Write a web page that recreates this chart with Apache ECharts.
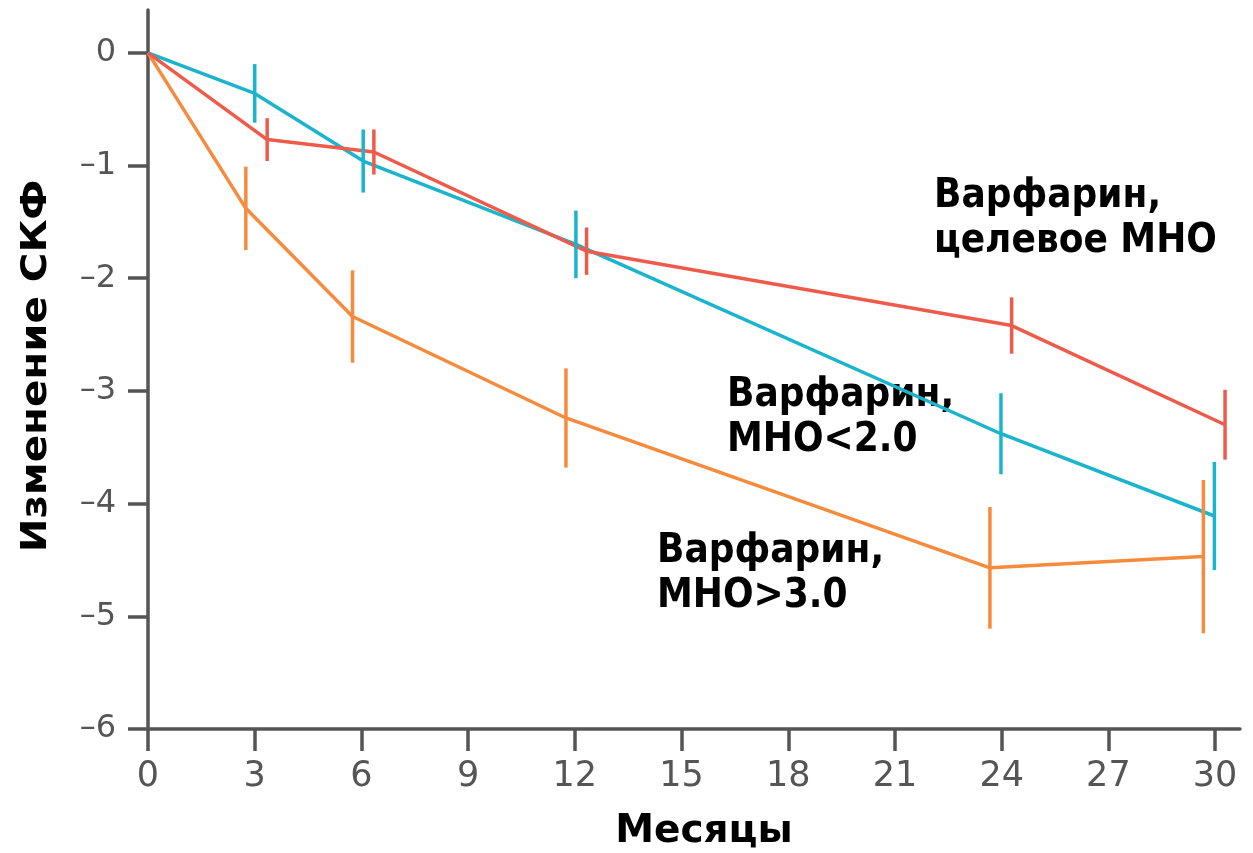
<!DOCTYPE html>
<html>
<head>
<meta charset="utf-8">
<script src="https://cdn.jsdelivr.net/npm/echarts@6/dist/echarts.min.js"></script>
<style>html,body{margin:0;padding:0;background:#fff;}#c{width:1253px;height:853px;}</style>
</head>
<body>
<div id="c"></div>
<script>
// ---- data ----
var xTicks = [0, 3, 6, 9, 12, 15, 18, 21, 24, 27, 30];
var yTicks = [-6, -5, -4, -3, -2, -1, 0];

// Warfarin, target INR (red)
var targetX   = [0, 3.35, 6.35, 12.33, 24.28, 30.28];
var targetY   = [0, -0.77, -0.88, -1.76, -2.42, -3.30];
var targetErr = [0, 0.19, 0.20, 0.21, 0.25, 0.31];

// Warfarin, INR<2.0 (cyan)
var lowX   = [0, 3.0, 6.05, 12.03, 23.98, 29.98];
var lowY   = [0, -0.36, -0.96, -1.70, -3.38, -4.11];
var lowErr = [0, 0.26, 0.28, 0.30, 0.36, 0.48];

// Warfarin, INR>3.0 (orange)
var highX   = [0, 2.75, 5.75, 11.75, 23.67, 29.67];
var highY   = [0, -1.38, -2.34, -3.24, -4.57, -4.47];
var highErr = [0, 0.37, 0.41, 0.44, 0.54, 0.68];

var labelTarget = 'Варфарин,\nцелевое МНО';
var labelLow = 'Варфарин,\nМНО<2.0';
var labelHigh = 'Варфарин,\nМНО>3.0';
var xName = 'Месяцы';
var yName = 'Изменение СКФ';

// ---- build ----
function pts(xs, ys) { return xs.map(function (x, i) { return [x, ys[i]]; }); }
function errData(xs, ys, es) {
  var out = [];
  xs.forEach(function (x, i) { if (es[i] > 0) out.push([x, ys[i] - es[i], ys[i] + es[i]]); });
  return out;
}
var COL_T = '#ee5b4b', COL_L = '#1ab5cc', COL_H = '#f68b3d';
var LW = 3.5;
function lineSeries(xs, ys, color) {
  return { type: 'line', data: pts(xs, ys), symbol: 'none', lineStyle: { color: color, width: LW }, z: 3, animation: false };
}
function errSeries(xs, ys, es, color) {
  return {
    type: 'custom', data: errData(xs, ys, es), z: 4, animation: false,
    renderItem: function (params, api) {
      var p1 = api.coord([api.value(0), api.value(1)]);
      var p2 = api.coord([api.value(0), api.value(2)]);
      return { type: 'line', shape: { x1: p1[0], y1: p1[1], x2: p2[0], y2: p2[1] }, style: { stroke: color, lineWidth: LW } };
    }
  };
}
var axisCol = '#555555';
var annFont = 'bold 36px "DejaVu Sans"';
var chart = echarts.init(document.getElementById('c'));
chart.setOption({
  animation: false,
  grid: { left: 148, right: 13, top: 10, bottom: 124, containLabel: false },
  xAxis: {
    type: 'value', min: 0, max: 30.7,
    splitLine: { show: false },
    axisLine: { show: true, onZero: false, lineStyle: { color: axisCol, width: 3.5 } },
    axisTick: { show: true, length: 22, customValues: xTicks, lineStyle: { color: axisCol, width: 3.5 } },
    axisLabel: { customValues: xTicks, margin: 30, color: axisCol, fontSize: 35, fontFamily: 'DejaVu Sans' }
  },
  yAxis: {
    type: 'value', min: -6, max: 0.38,
    splitLine: { show: false },
    axisLine: { show: true, onZero: false, lineStyle: { color: axisCol, width: 3.5 } },
    axisTick: { show: true, length: 20, customValues: yTicks, lineStyle: { color: axisCol, width: 3.5 } },
    axisLabel: { customValues: yTicks, margin: 32, color: axisCol, fontSize: 32, fontFamily: 'DejaVu Sans',
      formatter: function (v) { return String(v).replace('-', '–'); } }
  },
  series: [
    lineSeries(highX, highY, COL_H), errSeries(highX, highY, highErr, COL_H),
    lineSeries(lowX, lowY, COL_L), errSeries(lowX, lowY, lowErr, COL_L),
    lineSeries(targetX, targetY, COL_T), errSeries(targetX, targetY, targetErr, COL_T)
  ],
  graphic: [
    { type: 'text', x: 934, y: 174, scaleY: 1.15, style: { text: labelTarget, font: annFont, fill: '#000', lineHeight: 39 } },
    { type: 'text', x: 727, y: 373, scaleY: 1.15, style: { text: labelLow, font: annFont, fill: '#000', lineHeight: 39 } },
    { type: 'text', x: 657, y: 529, scaleY: 1.15, style: { text: labelHigh, font: annFont, fill: '#000', lineHeight: 39 } },
    { type: 'text', x: 704, y: 832, style: { text: xName, font: 'bold 39px "DejaVu Sans"', fill: '#000', align: 'center', verticalAlign: 'middle' } },
    { type: 'text', x: 37, y: 366, rotation: Math.PI / 2, scaleX: 1.12, style: { text: yName, font: 'bold 36px "DejaVu Sans"', fill: '#000', align: 'center', verticalAlign: 'middle' } }
  ]
});
</script>
</body>
</html>
